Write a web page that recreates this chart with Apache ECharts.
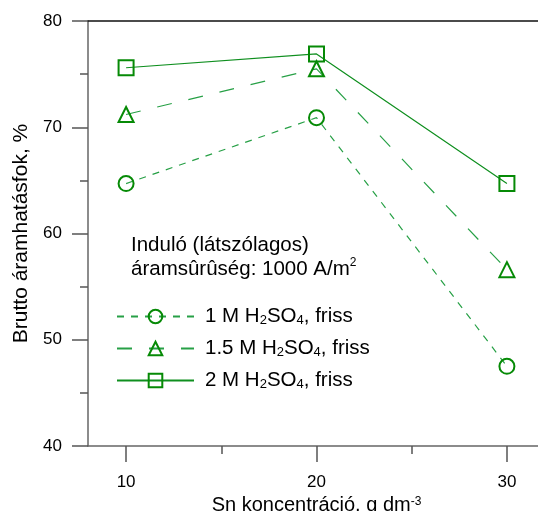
<!DOCTYPE html>
<html>
<head>
<meta charset="utf-8">
<script src="https://cdn.jsdelivr.net/npm/echarts@6/dist/echarts.min.js"></script>
<style>html,body{margin:0;padding:0;background:#fff}#c{width:538px;height:511px}</style>
</head>
<body>
<div id="c"></div>
<script>
const xValues = [10, 20, 30];
const xTicks = [10, 20, 30];
const xMinorTicks = [15, 25];
const yTicks = [40, 50, 60, 70, 80];
const s1M = [64.7, 70.9, 47.5];
const s15M = [71.2, 75.5, 56.6];
const s2M = [75.6, 76.9, 64.7];
const seriesNames = ['1 M H{sub|2}SO{sub|4}, friss', '1.5 M H{sub|2}SO{sub|4}, friss', '2 M H{sub|2}SO{sub|4}, friss'];

const FONT = 'Liberation Sans, Arial, sans-serif';
const markerColor = '#068a06';
const chart = echarts.init(document.getElementById('c'));
const pairs = arr => xValues.map((x, i) => [x, arr[i]]);

chart.setOption({
  animation: false,
  grid: { left: 88, top: 21, width: 457, height: 425, outerBoundsMode: 'none', containLabel: false },
  title: {
    text: 'Induló (látszólagos)\náramsûrûség: 1000 A/m{sup|2}',
    left: 131, top: 233, padding: 0,
    textStyle: {
      fontFamily: FONT, fontSize: 20.5, fontWeight: 'normal', color: '#000', lineHeight: 24,
      rich: { sup: { fontSize: 12, lineHeight: 19, verticalAlign: 'top', fontFamily: FONT, color: '#000' } }
    }
  },
  legend: {
    orient: 'vertical', left: 116, top: 306, padding: 0,
    itemWidth: 77, itemHeight: 17, itemGap: 11,
    data: seriesNames,
    textStyle: { fontFamily: FONT, fontSize: 20.5, lineHeight: 20, color: '#000', padding: [0, 0, 0, 6],
      rich: { sub: { fontSize: 13, lineHeight: 10, verticalAlign: 'bottom', fontFamily: FONT, color: '#000' } } }
  },
  xAxis: [{
    type: 'value', min: 8, max: 32, position: 'bottom',
    name: 'Sn koncentráció, g dm{sup|-3}', nameLocation: 'middle', nameGap: 46,
    nameTextStyle: { fontFamily: FONT, fontSize: 20, color: '#000',
      rich: { sup: { fontSize: 12, lineHeight: 15, verticalAlign: 'top', fontFamily: FONT, color: '#000' } } },
    axisLine: { show: true, onZero: false, lineStyle: { color: '#666', width: 1.5 } },
    axisTick: { show: true, length: 16, customValues: xTicks, lineStyle: { color: '#555', width: 1.5 } },
    axisLabel: { customValues: xTicks, margin: 28, fontFamily: FONT, fontSize: 17, color: '#000' },
    splitLine: { show: false }
  }, {
    type: 'value', min: 8, max: 32, position: 'bottom',
    axisLine: { show: false },
    axisTick: { show: true, length: 8, customValues: xMinorTicks, lineStyle: { color: '#555', width: 1.5 } },
    axisLabel: { show: false },
    splitLine: { show: false }
  }, {
    type: 'value', min: 8, max: 32, position: 'top',
    axisLine: { show: true, onZero: false, lineStyle: { color: '#111', width: 1.5 } },
    axisTick: { show: false }, axisLabel: { show: false }, splitLine: { show: false }
  }],
  yAxis: {
    type: 'value', min: 40, max: 80, interval: 10,
    name: 'Brutto áramhatásfok, %', nameLocation: 'middle', nameGap: 56,
    nameTextStyle: { fontFamily: FONT, fontSize: 21, color: '#000' },
    axisLine: { show: true, onZero: false, lineStyle: { color: '#666', width: 1.5 } },
    axisTick: { show: true, length: 16, lineStyle: { color: '#555', width: 1.5 } },
    minorTick: { show: true, splitNumber: 2, length: 8, lineStyle: { color: '#555', width: 1.5 } },
    axisLabel: { margin: 26, fontFamily: FONT, fontSize: 17, color: '#000' },
    splitLine: { show: false }
  },
  series: [{
    name: seriesNames[0], type: 'line', xAxisIndex: 0, data: pairs(s1M),
    symbol: 'circle', symbolSize: 15,
    lineStyle: { color: '#27a046', width: 1.2, type: [7, 7] },
    itemStyle: { color: 'rgba(0,0,0,0)', borderColor: markerColor, borderWidth: 2 }
  }, {
    name: seriesNames[1], type: 'line', xAxisIndex: 0, data: pairs(s15M),
    symbol: 'triangle', symbolSize: 15,
    lineStyle: { color: '#27a046', width: 1.2, type: [15, 17] },
    itemStyle: { color: 'rgba(0,0,0,0)', borderColor: markerColor, borderWidth: 2 }
  }, {
    name: seriesNames[2], type: 'line', xAxisIndex: 0, data: pairs(s2M),
    symbol: 'rect', symbolSize: 15,
    lineStyle: { color: '#0f8f1f', width: 1.2 },
    itemStyle: { color: 'rgba(0,0,0,0)', borderColor: markerColor, borderWidth: 2 }
  }]
});
</script>
</body>
</html>
